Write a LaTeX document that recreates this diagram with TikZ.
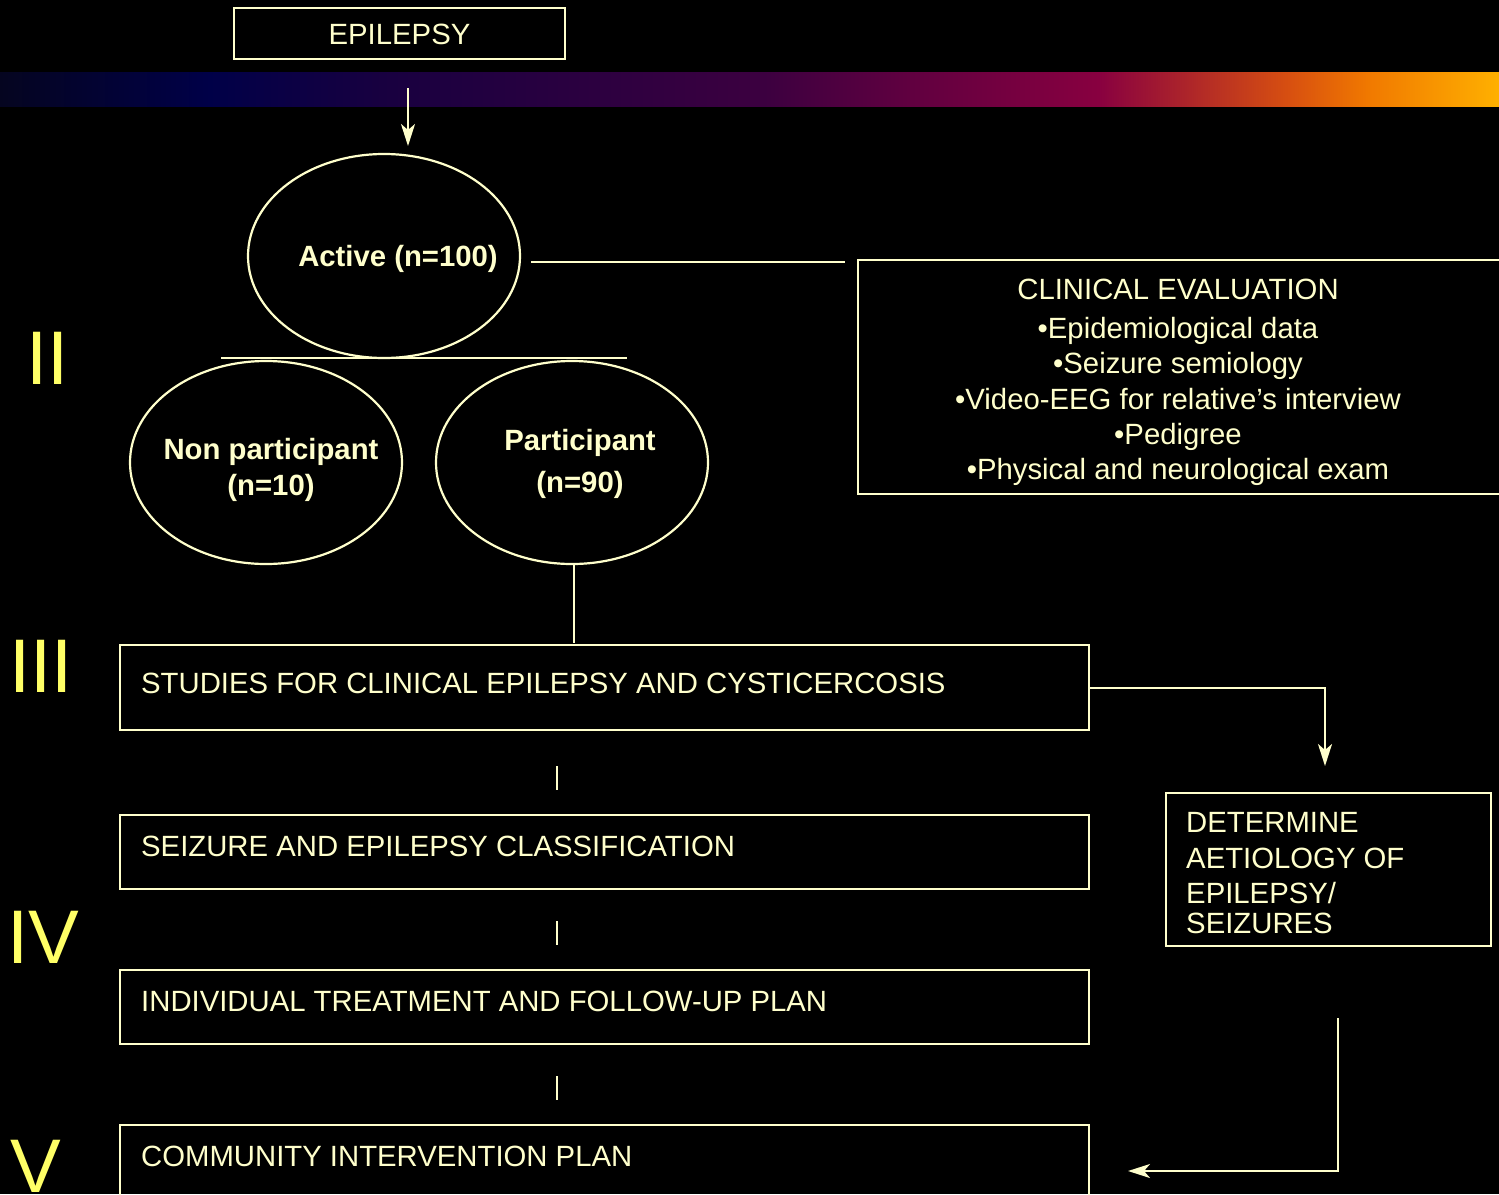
\documentclass[tikz,border=0pt]{standalone}
\usepackage{fontspec}
\setmainfont{Liberation Sans}
\usetikzlibrary{arrows.meta,shapes.geometric}
\definecolor{cream}{HTML}{FFFFCC}
\definecolor{numyel}{HTML}{FFFF66}
\definecolor{g0}{HTML}{050520}
\definecolor{g1}{HTML}{000048}
\definecolor{g2}{HTML}{180040}
\definecolor{g3}{HTML}{2A0040}
\definecolor{g4}{HTML}{3C0040}
\definecolor{g5}{HTML}{600040}
\definecolor{g6}{HTML}{880040}
\definecolor{g7}{HTML}{B02828}
\definecolor{g8}{HTML}{D85010}
\definecolor{g9}{HTML}{F07800}
\definecolor{g10}{HTML}{FFB000}
\tikzset{
  ln/.style={draw=cream, line width=2.2pt},
  boxnode/.style={draw=cream, line width=2.2pt, rectangle, inner sep=0pt},
  ellnode/.style={draw=cream, line width=2.2pt, ellipse, inner sep=0pt},
  txt/.style={text=cream, font=\fontsize{29.3}{35}\selectfont, inner sep=0pt},
  btxt/.style={text=cream, font=\fontsize{29.3}{36}\selectfont\bfseries, inner sep=0pt, align=center},
  roman/.style={text=numyel, font=\fontsize{76}{80}\selectfont, inner sep=0pt, anchor=base west},
  arrowhd/.style={-{Stealth[length=22pt,width=14pt,inset=6pt]}},
}
\begin{document}
\begin{tikzpicture}[x=1pt,y=-1pt]
\fill[black] (0,0) rectangle (1499,1194);
\useasboundingbox (0,0) rectangle (1499,1194);
% gradient bar
\foreach \xa/\ca/\xb/\cb in {0/g0/210/g1, 209/g1/382/g2, 381/g2/574/g3, 573/g3/765/g4, 764/g4/908/g5, 907/g5/1099/g6, 1098/g6/1195/g7, 1194/g7/1291/g8, 1290/g8/1367/g9, 1366/g9/1499/g10}
  \shade[left color=\ca, right color=\cb] (\xa,72) rectangle (\xb,106);

% top box
\node[boxnode, minimum width=331, minimum height=51] (epi) at (399.5,33.5) {};
\node[txt] (epiT) at (399.5,34) {EPILEPSY};
\coordinate (a0) at (408,88);
\coordinate (a1) at (408,146);
\draw[ln, arrowhd] (a0) -- (a1);

% ellipses
\node[ellnode, minimum width=272, minimum height=204] (active) at (384,256) {};
\node[btxt] (activeT) at (398,259) {Active (n=100)};
\node[ellnode, minimum width=272, minimum height=203] (nonp) at (266,462.5) {};
\node[btxt] (nonpT) at (271,470) {Non participant\\(n=10)};
\node[ellnode, minimum width=272, minimum height=203] (part) at (572,462.5) {};
\node[btxt] (partT) at (580,464) {Participant\\[6pt](n=90)};

\coordinate (h0) at (221,358);
\coordinate (h1) at (627,358);
\draw[ln] (h0) -- (h1);

% clinical evaluation
\node[boxnode, minimum width=660, minimum height=234, anchor=north west] (clin) at (857,259) {};
\coordinate (c0) at (531,262);
\coordinate (c1) at (845,262);
\draw[ln] (c0) -- (c1);
\node[txt, align=center, anchor=north] (clinT) at (1178,279) {CLINICAL EVALUATION\\[4pt]%
•Epidemiological data\\
•Seizure semiology\\[1pt]
•Video-EEG for relative’s interview\\
•Pedigree\\
•Physical and neurological exam};

% roman numerals
\node[roman] (r2) at (26,384) {II};
\node[roman] (r3) at (9,692) {III};
\node[roman] (r4) at (7,963) {IV};
\node[roman] (r5) at (10,1192) {V};

% stage boxes
\node[boxnode, minimum width=969, minimum height=85, anchor=north west] (s3) at (119,644) {};
\node[txt, anchor=west] (s3T) at (141,683) {STUDIES FOR CLINICAL EPILEPSY AND CYSTICERCOSIS};
\node[boxnode, minimum width=969, minimum height=74, anchor=north west] (s4a) at (119,814) {};
\node[txt, anchor=west] (s4aT) at (141,846) {SEIZURE AND EPILEPSY CLASSIFICATION};
\node[boxnode, minimum width=969, minimum height=74, anchor=north west] (s4b) at (119,969) {};
\node[txt, anchor=west] (s4bT) at (141,1001) {INDIVIDUAL TREATMENT AND FOLLOW-UP PLAN};
\node[boxnode, minimum width=969, minimum height=90, anchor=north west] (s5) at (119,1124) {};
\node[txt, anchor=west] (s5T) at (141,1156) {COMMUNITY INTERVENTION PLAN};

\coordinate (p0) at (574,564);
\coordinate (p1) at (574,643);
\draw[ln] (p0) -- (p1);

\foreach \y [count=\i] in {766,921,1076}{
  \coordinate (v\i a) at (557,\y);
  \coordinate (v\i b) at (557,\y+24);
  \draw[ln] (v\i a) -- (v\i b);
}

% determine box
\node[boxnode, minimum width=325, minimum height=153, anchor=north west] (det) at (1165,792) {};
\node[txt, align=left, anchor=north west] (detT) at (1186,812) {DETERMINE\\[1pt]AETIOLOGY OF\\EPILEPSY/\\[-5pt]SEIZURES};

\coordinate (d0) at (1088,688);
\coordinate (d1) at (1325,688);
\coordinate (d2) at (1325,766);
\draw[ln, arrowhd] (d0) -- (d1) -- (d2);

\coordinate (e0) at (1338,1018);
\coordinate (e1) at (1338,1171);
\coordinate (e2) at (1128,1171);
\draw[ln, arrowhd] (e0) -- (e1) -- (e2);
\end{tikzpicture}
\end{document}
